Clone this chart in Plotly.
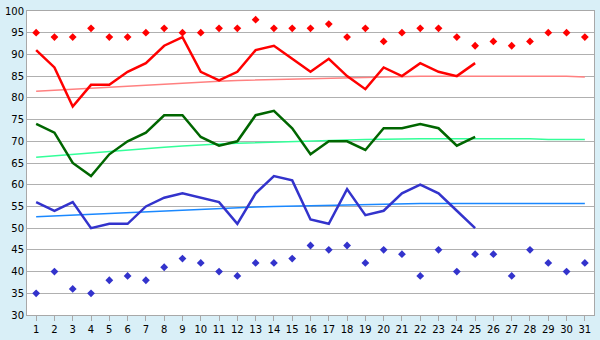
import plotly.graph_objects as go

days = list(range(1, 32))
days_obs = list(range(1, 26))

record_high = [95,94,94,96,94,94,95,96,95,95,96,96,98,96,96,96,97,94,96,93,95,96,96,94,92,93,92,93,95,95,94]
record_low = [35,40,36,35,38,39,38,41,43,42,40,39,42,42,43,46,45,46,42,45,44,39,45,40,44,44,39,45,42,40,42]

high_obs = [91,87,78,83,83,86,88,92,94,86,84,86,91,92,89,86,89,85,82,87,85,88,86,85,88]
mean_obs = [74,72,65,62,67,70,72,76,76,71,69,70,76,77,73,67,70,70,68,73,73,74,73,69,71]
low_obs = [56,54,56,50,51,51,55,57,58,57,56,51,58,62,61,52,51,59,53,54,58,60,58,54,50]

high_normal = [81.5,81.75,82.0,82.25,82.5,82.75,83.0,83.2,83.45,83.7,83.85,84.0,84.1,84.25,84.4,84.5,
               84.65,84.75,84.85,84.95,85.0,85.0,85.0,85.0,85.0,85.0,85.0,85.0,85.0,85.0,84.8]
mean_normal = [66.3,66.65,67.0,67.3,67.6,67.95,68.3,68.6,68.9,69.2,69.4,69.55,69.7,69.85,70.0,70.1,
               70.2,70.3,70.4,70.5,70.6,70.6,70.6,70.6,70.6,70.6,70.6,70.6,70.4,70.4,70.4]
low_normal = [52.6,52.8,53.0,53.2,53.4,53.6,53.8,54.0,54.2,54.4,54.55,54.7,54.85,55.0,55.1,55.2,
              55.35,55.45,55.55,55.65,55.7,55.7,55.7,55.7,55.7,55.7,55.7,55.7,55.7,55.7,55.7]

y_ticks = list(range(30, 101, 5))

fig = go.Figure()
fig.add_trace(go.Scatter(x=days, y=high_normal, mode="lines", line=dict(color="#ff8080", width=1.5)))
fig.add_trace(go.Scatter(x=days, y=mean_normal, mode="lines", line=dict(color="#33ff99", width=1.5)))
fig.add_trace(go.Scatter(x=days, y=low_normal, mode="lines", line=dict(color="#1a88ff", width=1.5)))
fig.add_trace(go.Scatter(x=days_obs, y=high_obs, mode="lines", line=dict(color="#ff0000", width=2.5)))
fig.add_trace(go.Scatter(x=days_obs, y=mean_obs, mode="lines", line=dict(color="#006600", width=2.5)))
fig.add_trace(go.Scatter(x=days_obs, y=low_obs, mode="lines", line=dict(color="#3333cc", width=2.5)))
fig.add_trace(go.Scatter(x=days, y=record_high, mode="markers",
                         marker=dict(symbol="diamond", size=6, color="#ff0000")))
fig.add_trace(go.Scatter(x=days, y=record_low, mode="markers",
                         marker=dict(symbol="diamond", size=6, color="#3333cc")))

fig.update_layout(
    width=600, height=340,
    margin=dict(l=26, r=5, t=5, b=20),
    paper_bgcolor="#d9eff7",
    plot_bgcolor="#ffffff",
    showlegend=False,
    hovermode=False,
    font=dict(family="DejaVu Sans", size=10, color="#000000"),
)
fig.update_xaxes(
    range=[0.5, 31.5], tickvals=days, ticktext=[str(d) for d in days],
    showgrid=False, zeroline=False,
    showline=True, linecolor="#a8a8a8", linewidth=1, mirror=True,
    ticks="outside", ticklen=5, tickcolor="#a8a8a8",
    tickfont=dict(size=10), ticklabeloverflow="allow",
)
fig.update_yaxes(
    range=[30, 100], tickvals=y_ticks, ticktext=[str(v) for v in y_ticks],
    showgrid=True, gridcolor="#b0b0b0", gridwidth=1, zeroline=False,
    showline=True, linecolor="#a8a8a8", linewidth=1, mirror=True,
    ticks="", tickfont=dict(size=10), ticklabeloverflow="allow",
)

fig.write_html("out.html", config={"displayModeBar": False},
               post_script="document.body.style.margin='0px';document.body.style.overflow='hidden';")
